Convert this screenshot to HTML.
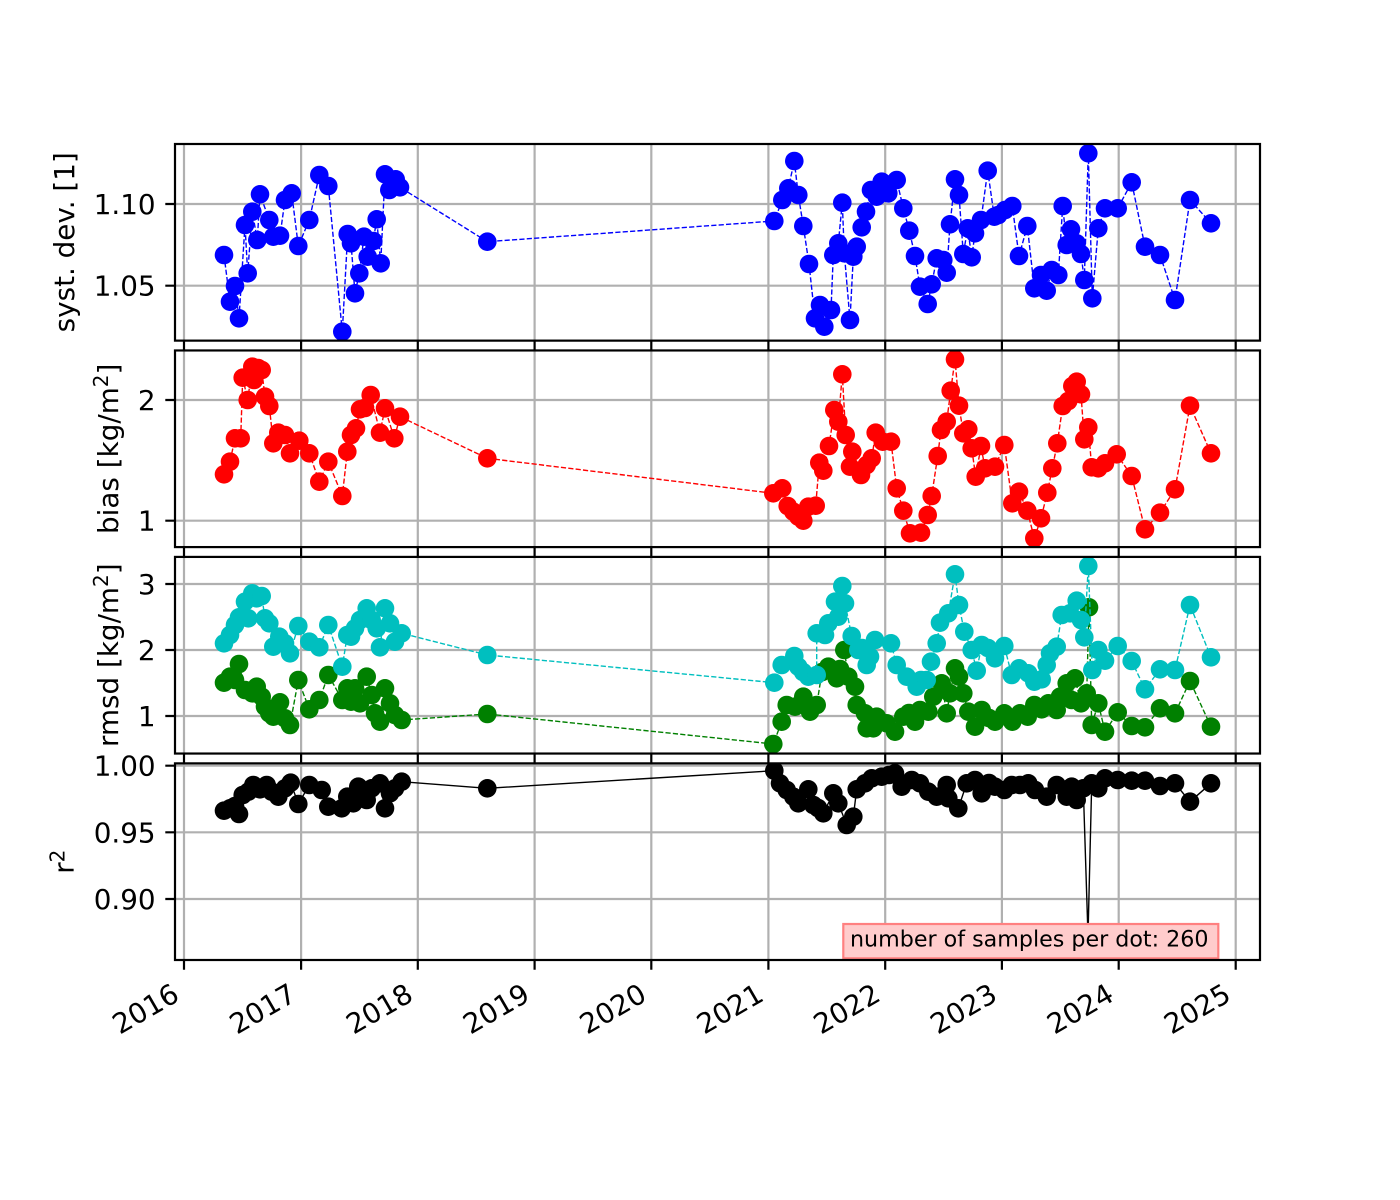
<!DOCTYPE html>
<html>
<head>
<meta charset="utf-8">
<style>
html,body{margin:0;padding:0;background:#fff;}
svg{display:block;}
text{font-family:"DejaVu Sans","Liberation Sans",sans-serif;fill:#000;}
</style>
</head>
<body>
<svg width="1400" height="1200" viewBox="0 0 1400 1200" xmlns="http://www.w3.org/2000/svg">
<defs>
<clipPath id="c1"><rect x="175" y="144" width="1085" height="196.63"/></clipPath>
<clipPath id="c2"><rect x="175" y="350.46" width="1085" height="196.62"/></clipPath>
<clipPath id="c3"><rect x="175" y="556.92" width="1085" height="196.62"/></clipPath>
<clipPath id="c4"><rect x="175" y="763.37" width="1085" height="196.63"/></clipPath>
<marker id="mb" markerUnits="userSpaceOnUse" markerWidth="20" markerHeight="20" refX="10" refY="10" overflow="visible"><circle cx="10" cy="10" r="9.3" fill="#0000ff"/></marker>
<marker id="mr" markerUnits="userSpaceOnUse" markerWidth="20" markerHeight="20" refX="10" refY="10" overflow="visible"><circle cx="10" cy="10" r="9.3" fill="#ff0000"/></marker>
<marker id="mc" markerUnits="userSpaceOnUse" markerWidth="20" markerHeight="20" refX="10" refY="10" overflow="visible"><circle cx="10" cy="10" r="9.3" fill="#00bfbf"/></marker>
<marker id="mg" markerUnits="userSpaceOnUse" markerWidth="20" markerHeight="20" refX="10" refY="10" overflow="visible"><circle cx="10" cy="10" r="9.3" fill="#008000"/></marker>
<marker id="mk" markerUnits="userSpaceOnUse" markerWidth="20" markerHeight="20" refX="10" refY="10" overflow="visible"><circle cx="10" cy="10" r="9.3" fill="#000000"/></marker>
</defs>
<rect width="1400" height="1200" fill="#fff"/>

<!-- ===== grids ===== -->
<g stroke="#b0b0b0" stroke-width="2.2" fill="none">
  <path d="M184 144V340.63M301.1 144V340.63M417.8 144V340.63M534.6 144V340.63M651.3 144V340.63M768.4 144V340.63M885.2 144V340.63M1001.9 144V340.63M1118.7 144V340.63M1235.7 144V340.63"/>
  <path d="M175 204H1260M175 285.7H1260"/>
  <path d="M184 350.46V547.08M301.1 350.46V547.08M417.8 350.46V547.08M534.6 350.46V547.08M651.3 350.46V547.08M768.4 350.46V547.08M885.2 350.46V547.08M1001.9 350.46V547.08M1118.7 350.46V547.08M1235.7 350.46V547.08"/>
  <path d="M175 400H1260M175 520.7H1260"/>
  <path d="M184 556.92V753.54M301.1 556.92V753.54M417.8 556.92V753.54M534.6 556.92V753.54M651.3 556.92V753.54M768.4 556.92V753.54M885.2 556.92V753.54M1001.9 556.92V753.54M1118.7 556.92V753.54M1235.7 556.92V753.54"/>
  <path d="M175 584H1260M175 650H1260M175 716H1260"/>
  <path d="M184 763.37V960M301.1 763.37V960M417.8 763.37V960M534.6 763.37V960M651.3 763.37V960M768.4 763.37V960M885.2 763.37V960M1001.9 763.37V960M1118.7 763.37V960M1235.7 763.37V960"/>
  <path d="M175 765.7H1260M175 832.3H1260M175 899H1260"/>
</g>

<!-- ===== panel 1: syst dev ===== -->
<g clip-path="url(#c1)">
<polyline fill="none" stroke="#0000ff" stroke-width="1.4" stroke-dasharray="5.2 2.2" marker-start="url(#mb)" marker-mid="url(#mb)" marker-end="url(#mb)" points="224,255 230,301.7 235,286 239,318.3 245,225 247.7,273.3 252.3,211.7 257.3,240 260,194.3 269.3,220 273.3,236.7 280,235.7 285,200 291.7,193.3 298.3,246 309.3,220 319.3,175 328.3,186 342.3,331.7 347.7,234 351,243.3 355,293.3 359.3,273.3 364,236.7 367.7,256.7 373.3,241 376.7,219.3 380.7,263.3 385,174.3 389.3,190 395.7,179.3 400,187.3 487.3,241.7 774.3,221 782.3,200 788.3,188.3 794.3,161 798.3,195 803.3,226 809,264 815,318.3 820,305 824.3,326.7 831,310 833.3,255 838.3,243.3 842.3,202.7 844.3,253.3 850,320 853.3,256.7 856.7,246.7 861.7,227.3 866,211.7 871,190 876.7,196.7 881.7,181.7 888.3,193.3 896.7,180 903.3,208.3 909.3,230.7 915,256 920,286.7 927.7,304 931.7,284.3 936.7,258.3 943.3,260 946.7,272.7 950,224.3 955,179.3 959,195 963.3,254 967.7,228.3 971.7,257.3 975,233.3 981,220 987.7,170.7 994.3,216.7 998.3,215 1005,210 1012.3,206 1019,256 1027.3,226 1034.3,288.3 1041,275 1046.7,290.7 1051.7,270 1058.3,275 1062.7,206 1066.7,245 1071,229.3 1076.7,243.3 1081,254 1084.3,280 1088.3,153.3 1092.3,298.3 1098.3,228.3 1105,208.3 1117.7,208.3 1131.7,182.3 1145,246.7 1160,255 1175,300 1190,200 1211,223.3"/>
</g>

<!-- ===== panel 2: bias ===== -->
<g clip-path="url(#c2)">
<polyline fill="none" stroke="#ff0000" stroke-width="1.4" stroke-dasharray="5.2 2.2" marker-start="url(#mr)" marker-mid="url(#mr)" marker-end="url(#mr)" points="224,474.3 230,461.7 235,438.3 240.7,438.3 242.7,377.7 247.7,400 252.3,366.7 254,380 258,368 261.7,370 265,396.7 269.3,406 273.3,443.3 278.3,432.7 285,435 290,453.3 299.3,440.7 309.3,453.3 319.3,481.7 328.3,461.7 342.3,496 347.3,451.7 351,435 356,428.3 360,409.3 365,408 370.7,395 380,432.7 385,408.3 394.3,438.3 400,416.7 487.3,458.3 773.3,493.3 782.3,488.3 787.7,506 793.3,511.7 798.3,516.7 803.3,520.7 808.3,506.7 815.7,505.7 819.3,462.7 823.3,470.7 829,446 834.3,410 838.3,421.7 842.3,374.3 845.7,435 850,466.7 852.3,451.7 861,475 866.7,465 871.7,458.3 875.7,432.7 882.7,441.7 891,441.7 896.7,488.3 903.3,510.7 910,533.3 921,532.7 927.7,515 931.7,496 937.7,456 941,430 946.7,421.7 950.7,390.7 955,359.3 959,405.7 963.3,433.3 968.3,429.3 971.7,448.3 975.7,476.7 981,446 985,468.3 995,466.7 1004.3,445 1012.3,503.3 1019,491.7 1027.3,510.7 1034.3,538.3 1041,518.3 1047.3,492.7 1052.3,468.3 1057.3,443.3 1062.7,406 1068.3,401 1072.3,386 1076.7,381.7 1081,394.3 1084.3,439.3 1088.3,427.3 1091.7,467.3 1098.3,468.3 1105,463.3 1116.7,454.3 1131.7,476 1145,529.3 1160,512.7 1175,489.3 1190,405.7 1211,453.3"/>
</g>

<!-- ===== panel 3: rmsd ===== -->
<g clip-path="url(#c3)">
<polyline fill="none" stroke="#008000" stroke-width="1.4" stroke-dasharray="5.2 2.2" marker-start="url(#mg)" marker-mid="url(#mg)" marker-end="url(#mg)" points="224,682.7 230,676.7 235,680 239,664 245,690 252.3,693.3 256.7,686.7 261.7,696.7 265,706.7 269.3,713.3 273.3,716.7 280,702.3 285,718.3 290,725 298.3,680 309.3,709.3 319.3,700 328.3,675 342.3,700 347.3,688.3 351,701.7 355,688.3 360,703.3 366.7,676.7 371.7,695 375,713.3 380,721.7 385,688.3 390,703.3 395,715 401.7,720 487.3,714 773.3,744 781.7,721.7 786.7,705 795,706.7 803.3,696.7 810,711.7 816.7,705 822,672 828.3,666.7 836.7,678.3 840,669 844.3,650 848.3,676.7 855,686.7 856.7,705 865,713.3 866.7,728.3 873.3,728.3 876.7,716.7 886.7,723.3 895,731.7 903.3,716.7 909,713 915,721.7 920,710 928.3,711.7 933.3,696.7 941.7,683.3 946.7,713.3 950,693.3 955,668.3 959,676.7 963.3,693.3 968.3,711.7 975,726.7 981.7,710 989,718 995,721.7 1004.3,713.3 1012.3,721.7 1020,713.3 1027.7,716.7 1034.3,705 1041.7,709.3 1048.3,703.3 1056.7,710 1060,696.7 1066.7,683.3 1071.7,700 1075,678.3 1081,703.3 1086.7,693.3 1089,607.3 1091.7,725 1098.3,703.3 1105,731.7 1117.7,712.3 1131.7,726 1145,727.3 1160,708.3 1175,713.3 1190,681 1211,726.7"/>
<polyline fill="none" stroke="#00bfbf" stroke-width="1.4" stroke-dasharray="5.2 2.2" marker-start="url(#mc)" marker-mid="url(#mc)" marker-end="url(#mc)" points="224,643.3 230,635 235,625 239,617.3 245,601.7 248.3,618.3 252.3,593.3 256.7,598.3 261.7,596 265,618.3 269.3,623.3 273.3,646.7 279.3,636.7 285,643.3 290,653.3 298.3,626 309.3,641.7 319.3,647.3 328.3,625 342.3,666.7 347.3,635 351,636.7 355,628.3 360,620 366.7,608.3 371.7,620 376.7,628.3 380,647.3 385,608.3 390,623.3 395,641.7 401.7,633.3 487.3,655 774.3,682.7 781.7,665 794.3,656 798.3,666.7 803,672 808.3,676.7 816.7,675 816.7,633.3 825,635 828.3,623.3 835,601.7 838.3,616.7 842.3,586 845,603.3 851.7,636 858.3,650 862,648 866.7,665 870,656.7 875,640 891,643.3 896.7,665 906.7,676.7 916.7,686.7 921,680 926.7,680 931,661.7 936.7,643.3 940,622.7 948.3,613.3 955,574.3 959,605 964.3,631.7 971.7,650 976.7,670.7 981.7,645 988,648 995,658.3 1004.3,646 1011.7,675 1019,668.3 1028.3,673.3 1034.3,681.7 1041.7,679.3 1046.7,665 1050,653.3 1056.7,646.7 1061.7,615 1070,613.3 1076.7,600.7 1081,620 1084.3,637.3 1088.3,566 1092.3,670 1098.3,650 1105,660.7 1117.7,646 1131.7,661 1145,689.3 1160,669.3 1175,670 1190,605 1211,657.3"/>
</g>

<!-- ===== panel 4: r2 ===== -->
<g clip-path="url(#c4)">
<polyline fill="none" stroke="#000000" stroke-width="1.4" marker-start="url(#mk)" marker-mid="url(#mk)" marker-end="url(#mk)" points="224,810.7 230,808.3 235,806 239,814 242.7,795 248.3,791.7 253.3,785 260,789.3 266.7,785 271.7,791.7 278.3,796.7 285,788.3 290.7,782.7 298.3,804 309.3,785 321.7,790 328.3,806.7 341.7,808.3 347.3,796.7 353.3,803.3 358.3,786.7 366.7,800 371.7,788.3 380,783.3 385,808.3 390,793.3 395,788.3 401.7,781.7 487.3,788.3 774.3,770.7 780,783.3 786.7,790 793.3,796.7 798.3,803.3 808.3,789.3 813.3,805 818,808 823.3,813.3 833.3,793.3 838.3,803.3 846.7,825 853.3,816.7 856.7,789.3 865,783.3 871.7,778.3 881.7,776.7 889,775 895,773.3 901.7,786.7 911.7,780 920,783.3 928.3,791.7 936.7,796.7 946.7,785 948.3,798.3 958.3,808.3 966.7,783.3 975,780 981.7,793.3 989,783 995,786.7 1004.3,790 1011.7,785 1020,785 1028.3,783.3 1035,790 1046.7,796.7 1056.7,785 1066.7,796.7 1071.7,786.7 1076.7,800 1083.3,788.3 1088,936 1091.7,783.3 1098.3,788.3 1105,778.3 1117.7,780 1131.7,780.7 1145,780.7 1160,786 1175,783.3 1190,801.7 1211,783.3"/>
</g>

<!-- annotation box -->
<rect x="843.3" y="924" width="375" height="34.3" fill="#ffcccc" stroke="#ff8080" stroke-width="2.2"/>
<text x="850" y="946.5" font-size="22.2">number of samples per dot: 260</text>

<!-- ===== spines ===== -->
<g fill="none" stroke="#000" stroke-width="2.2">
  <rect x="175" y="144" width="1085" height="196.63"/>
  <rect x="175" y="350.46" width="1085" height="196.62"/>
  <rect x="175" y="556.92" width="1085" height="196.62"/>
  <rect x="175" y="763.37" width="1085" height="196.63"/>
</g>

<!-- ===== ticks ===== -->
<g stroke="#000" stroke-width="2.2" fill="none">
  <path d="M165.3 204H175M165.3 285.7H175"/>
  <path d="M165.3 400H175M165.3 520.7H175"/>
  <path d="M165.3 584H175M165.3 650H175M165.3 716H175"/>
  <path d="M165.3 765.7H175M165.3 832.3H175M165.3 899H175"/>
  <path d="M184 340.63v9.7M301.1 340.63v9.7M417.8 340.63v9.7M534.6 340.63v9.7M651.3 340.63v9.7M768.4 340.63v9.7M885.2 340.63v9.7M1001.9 340.63v9.7M1118.7 340.63v9.7M1235.7 340.63v9.7"/>
  <path d="M184 547.08v9.7M301.1 547.08v9.7M417.8 547.08v9.7M534.6 547.08v9.7M651.3 547.08v9.7M768.4 547.08v9.7M885.2 547.08v9.7M1001.9 547.08v9.7M1118.7 547.08v9.7M1235.7 547.08v9.7"/>
  <path d="M184 753.54v9.7M301.1 753.54v9.7M417.8 753.54v9.7M534.6 753.54v9.7M651.3 753.54v9.7M768.4 753.54v9.7M885.2 753.54v9.7M1001.9 753.54v9.7M1118.7 753.54v9.7M1235.7 753.54v9.7"/>
  <path d="M184 960v9.7M301.1 960v9.7M417.8 960v9.7M534.6 960v9.7M651.3 960v9.7M768.4 960v9.7M885.2 960v9.7M1001.9 960v9.7M1118.7 960v9.7M1235.7 960v9.7"/>
</g>

<!-- ===== y tick labels ===== -->
<g font-size="27.8" text-anchor="end">
  <text x="155.6" y="214">1.10</text>
  <text x="155.6" y="295.7">1.05</text>
  <text x="155.6" y="410">2</text>
  <text x="155.6" y="530.7">1</text>
  <text x="155.6" y="594">3</text>
  <text x="155.6" y="660">2</text>
  <text x="155.6" y="726">1</text>
  <text x="155.6" y="775.7">1.00</text>
  <text x="155.6" y="842.3">0.95</text>
  <text x="155.6" y="909">0.90</text>
</g>

<!-- ===== y labels ===== -->
<g font-size="27.8" text-anchor="middle">
  <text transform="translate(74,242.3) rotate(-90)">syst. dev. [1]</text>
  <text transform="translate(118,448.8) rotate(-90)">bias [kg/m<tspan font-size="20" dy="-10">2</tspan><tspan dy="10">]</tspan></text>
  <text transform="translate(118,655.2) rotate(-90)">rmsd [kg/m<tspan font-size="20" dy="-10">2</tspan><tspan dy="10">]</tspan></text>
  <text transform="translate(73.3,861.7) rotate(-90)">r<tspan font-size="20" dy="-9">2</tspan></text>
</g>

<!-- ===== x tick labels ===== -->
<g font-size="27.8" text-anchor="end">
  <text transform="translate(181,999.5) rotate(-30)">2016</text>
  <text transform="translate(298.1,999.5) rotate(-30)">2017</text>
  <text transform="translate(414.8,999.5) rotate(-30)">2018</text>
  <text transform="translate(531.6,999.5) rotate(-30)">2019</text>
  <text transform="translate(648.3,999.5) rotate(-30)">2020</text>
  <text transform="translate(765.4,999.5) rotate(-30)">2021</text>
  <text transform="translate(882.2,999.5) rotate(-30)">2022</text>
  <text transform="translate(998.9,999.5) rotate(-30)">2023</text>
  <text transform="translate(1115.7,999.5) rotate(-30)">2024</text>
  <text transform="translate(1232.7,999.5) rotate(-30)">2025</text>
</g>
</svg>
</body>
</html>
